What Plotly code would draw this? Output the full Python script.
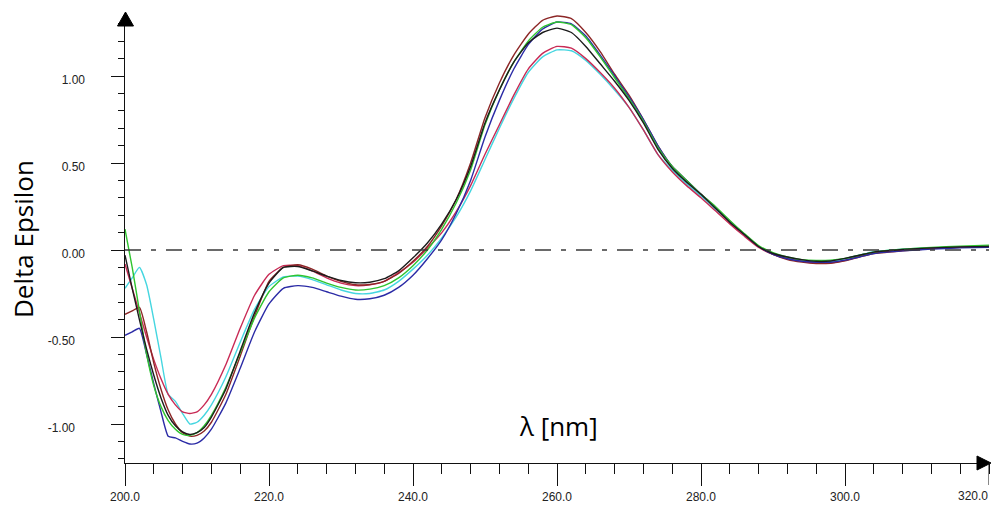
import plotly.graph_objects as go

# ---------------- data ----------------
wavelength = [200, 201, 202, 203, 204, 205, 206, 207, 208, 209, 210, 211, 212, 214, 216, 218, 220,
              222, 224, 226, 228, 230, 232, 234, 236, 238, 240, 242, 244, 246, 248, 250, 252, 254,
              256, 258, 260, 262, 264, 266, 268, 270, 272, 274, 276, 278, 280, 282, 284, 286, 288,
              290, 292, 294, 296, 298, 300, 302, 304, 308, 312, 316, 320]

black = [-0.03, -0.22, -0.40, -0.57, -0.72, -0.85, -0.95, -1.01, -1.045, -1.06, -1.05, -1.02, -0.96,
         -0.80, -0.58, -0.36, -0.19, -0.10, -0.095, -0.12, -0.15, -0.175, -0.188, -0.185, -0.165,
         -0.12, -0.045, 0.04, 0.15, 0.29, 0.48, 0.73, 0.92, 1.08, 1.19, 1.25, 1.275, 1.25, 1.17,
         1.07, 0.97, 0.86, 0.73, 0.58, 0.47, 0.39, 0.32, 0.24, 0.16, 0.09, 0.02, -0.02, -0.04,
         -0.055, -0.065, -0.063, -0.048, -0.03, -0.012, 0.003, 0.012, 0.018, 0.02]

crimson = [-0.08, -0.22, -0.36, -0.50, -0.63, -0.74, -0.83, -0.89, -0.93, -0.94, -0.93, -0.89, -0.83,
           -0.66, -0.45, -0.26, -0.14, -0.09, -0.09, -0.12, -0.16, -0.19, -0.205, -0.20, -0.18,
           -0.13, -0.07, 0.01, 0.10, 0.22, 0.37, 0.55, 0.72, 0.89, 1.04, 1.13, 1.17, 1.16, 1.10,
           1.02, 0.93, 0.82, 0.69, 0.55, 0.45, 0.37, 0.30, 0.225, 0.15, 0.08, 0.015, -0.025, -0.05,
           -0.065, -0.075, -0.075, -0.06, -0.035, -0.015, 0.0, 0.01, 0.018, 0.02]

cyan = [-0.22, -0.16, -0.10, -0.20, -0.40, -0.62, -0.83, -0.87, -0.94, -1.00, -0.99, -0.95, -0.89,
        -0.73, -0.53, -0.34, -0.21, -0.155, -0.15, -0.17, -0.20, -0.23, -0.25, -0.25, -0.23,
        -0.18, -0.11, -0.03, 0.07, 0.19, 0.34, 0.52, 0.70, 0.87, 1.02, 1.11, 1.15, 1.145, 1.09,
        1.01, 0.92, 0.82, 0.69, 0.55, 0.46, 0.38, 0.31, 0.235, 0.16, 0.09, 0.02, -0.02, -0.045,
        -0.06, -0.068, -0.066, -0.05, -0.03, -0.01, 0.005, 0.012, 0.018, 0.022]

blue = [-0.49, -0.47, -0.45, -0.60, -0.77, -0.93, -1.07, -1.08, -1.10, -1.115, -1.11, -1.08, -1.03,
        -0.88, -0.68, -0.47, -0.31, -0.22, -0.205, -0.215, -0.24, -0.265, -0.283, -0.28, -0.26,
        -0.215, -0.145, -0.05, 0.06, 0.21, 0.40, 0.65, 0.86, 1.04, 1.18, 1.27, 1.31, 1.30, 1.23,
        1.12, 1.00, 0.88, 0.75, 0.60, 0.48, 0.40, 0.32, 0.245, 0.165, 0.09, 0.02, -0.025, -0.05,
        -0.065, -0.07, -0.07, -0.058, -0.04, -0.02, -0.005, 0.005, 0.012, 0.015]

green = [0.12, -0.10, -0.35, -0.60, -0.78, -0.90, -0.98, -1.03, -1.06, -1.065, -1.05, -1.01, -0.95,
         -0.79, -0.59, -0.39, -0.24, -0.16, -0.145, -0.16, -0.19, -0.215, -0.23, -0.225, -0.205,
         -0.16, -0.09, 0.0, 0.12, 0.27, 0.46, 0.72, 0.92, 1.08, 1.20, 1.28, 1.31, 1.295, 1.22,
         1.11, 0.99, 0.87, 0.74, 0.59, 0.48, 0.40, 0.32, 0.25, 0.17, 0.095, 0.025, -0.015, -0.04,
         -0.055, -0.06, -0.058, -0.048, -0.03, -0.012, 0.005, 0.015, 0.022, 0.028]

brown = [-0.37, -0.35, -0.33, -0.47, -0.65, -0.80, -0.92, -1.00, -1.05, -1.07, -1.065, -1.04, -0.99,
         -0.83, -0.61, -0.38, -0.18, -0.10, -0.085, -0.11, -0.15, -0.18, -0.20, -0.198, -0.18,
         -0.135, -0.065, 0.02, 0.14, 0.29, 0.50, 0.76, 0.96, 1.12, 1.24, 1.32, 1.345, 1.33, 1.25,
         1.14, 1.01, 0.89, 0.75, 0.60, 0.48, 0.40, 0.32, 0.245, 0.165, 0.09, 0.02, -0.025, -0.055,
         -0.07, -0.078, -0.076, -0.062, -0.04, -0.02, -0.005, 0.008, 0.015, 0.02]

x_tick_vals = [200, 220, 240, 260, 280, 300, 320]
x_tick_text = ["200.0", "220.0", "240.0", "260.0", "280.0", "300.0", "320.0"]
y_tick_vals = [-1.0, -0.5, 0.0, 0.5, 1.0]
y_tick_text = ["-1.00", "-0.50", "0.00", "0.50", "1.00"]

# ---------------- figure ----------------
W, H = 992, 512
L, R, T, B = 125, 3, 14, 49
pw, ph = W - L - R, H - T - B
NB = "\u00a0"

fig = go.Figure()
series = [
    ("cyan", cyan, "#45d6e0"),
    ("crimson", crimson, "#c82a55"),
    ("brown", brown, "#8c2626"),
    ("blue", blue, "#2b2ba6"),
    ("green", green, "#2fc42f"),
    ("black", black, "#1c1c1c"),
]
for name, vals, col in series:
    fig.add_trace(go.Scatter(x=wavelength, y=vals, mode="lines", name=name,
                             line=dict(color=col, width=1.4, shape="spline", smoothing=0.5),
                             showlegend=False, hoverinfo="skip"))

fig.add_shape(type="line", xref="x", yref="y", x0=200, x1=320, y0=0, y1=0,
              line=dict(color="#3a3a3a", width=1.6, dash="16px,10px,5px,10px"))

def px2paper(px, py):
    return (px - L) / pw, (H - B - py) / ph

def tri(pts):
    p = [px2paper(a, b) for a, b in pts]
    return "M {} {} L {} {} L {} {} Z".format(p[0][0], p[0][1], p[1][0], p[1][1], p[2][0], p[2][1])

fig.add_shape(type="path", xref="paper", yref="paper",
              path=tri([(125.5, 12), (117.5, 26), (133.5, 26)]),
              fillcolor="black", line=dict(color="black", width=1))
fig.add_shape(type="path", xref="paper", yref="paper",
              path=tri([(991, 463), (977, 456), (977, 470)]),
              fillcolor="black", line=dict(color="black", width=1))

tickfont = dict(family="Liberation Sans, Arial, sans-serif", size=12, color="#222222")

# pad y labels so they sit away from the axis like in the original
y_tick_labels = [t + NB * (10 if t.startswith("-") else 7) for t in y_tick_text]

fig.update_xaxes(range=[200, 320], showline=True, linecolor="#111111", linewidth=1.2,
                 showgrid=False, zeroline=False,
                 tickmode="array", tickvals=x_tick_vals[:-1], ticktext=x_tick_text[:-1],
                 ticks="outside", ticklen=22, tickwidth=1, tickcolor="#111111",
                 tickfont=tickfont,
                 minor=dict(dtick=4, tick0=200, ticks="outside", ticklen=10, tickwidth=1,
                            tickcolor="#111111", showgrid=False))
fig.update_yaxes(range=[(H - B - 250) / -174.0, (250 - T) / 174.0], showline=True,
                 linecolor="#111111", linewidth=1.2, showgrid=False, zeroline=False,
                 tickmode="array", tickvals=y_tick_vals, ticktext=y_tick_labels,
                 ticks="outside", ticklen=13, tickwidth=1, tickcolor="#111111",
                 tickfont=tickfont, ticklabelshift=4,
                 minor=dict(dtick=0.1, tick0=0, ticks="outside", ticklen=6, tickwidth=1,
                            tickcolor="#111111", showgrid=False))

# last x tick label is right-aligned at the image edge, as in the original
fig.add_shape(type="line", xref="x", yref="paper", x0=320, x1=320,
              y0=0, y1=px2paper(0, 485)[1], line=dict(color="#111111", width=1))
fig.add_annotation(text=x_tick_text[-1], xref="paper", yref="paper",
                   x=px2paper(990, 0)[0], y=px2paper(0, 496)[1], xanchor="right", yanchor="middle",
                   showarrow=False, font=tickfont)

fig.add_annotation(text="Delta Epsilon", xref="paper", yref="paper",
                   x=px2paper(23, 0)[0], y=px2paper(0, 239)[1], xanchor="center", yanchor="middle",
                   textangle=-90, showarrow=False,
                   font=dict(family="Open Sans, sans-serif", size=26, color="#000000"))
fig.add_annotation(text="λ [nm]", xref="paper", yref="paper",
                   x=px2paper(558, 0)[0], y=px2paper(0, 426)[1], xanchor="center", yanchor="middle",
                   showarrow=False,
                   font=dict(family="Open Sans, sans-serif", size=26, color="#000000"))

fig.update_layout(width=W, height=H, margin=dict(l=L, r=R, t=T, b=B),
                  paper_bgcolor="white", plot_bgcolor="white", showlegend=False)

fig.write_html("out.html", config={"displayModeBar": False, "staticPlot": True})

with open("out.html", "r", encoding="utf-8") as f:
    html = f.read()
html = html.replace("<head>", "<head><style>html,body{margin:0;padding:0;overflow:hidden;}</style>", 1)
with open("out.html", "w", encoding="utf-8") as f:
    f.write(html)
